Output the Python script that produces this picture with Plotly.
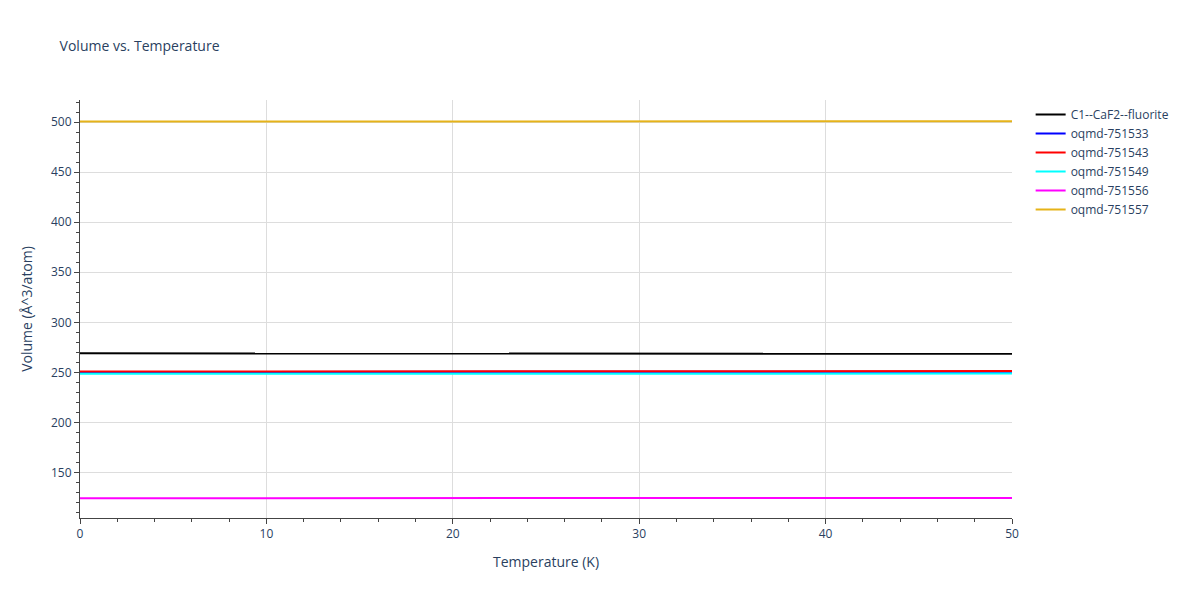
import plotly.graph_objects as go

temps = [0, 5, 10, 15, 20, 25, 30, 35, 40, 45, 50]
names = ["C1--CaF2--fluorite", "oqmd-751533", "oqmd-751543", "oqmd-751549", "oqmd-751556", "oqmd-751557"]
colors = ["black", "blue", "red", "cyan", "magenta", "#E6B319"]
v_c1 = [269.0, 269.0, 268.9, 268.9, 268.9, 268.8, 268.8, 268.8, 268.7, 268.7, 268.6]
v_533 = [250.4, 250.4, 250.4, 250.5, 250.5, 250.5, 250.5, 250.6, 250.6, 250.6, 250.7]
v_543 = [250.9, 250.9, 250.9, 251.0, 251.0, 251.0, 251.1, 251.1, 251.2, 251.2, 251.3]
v_549 = [248.6, 248.6, 248.6, 248.6, 248.7, 248.7, 248.7, 248.7, 248.8, 248.8, 248.8]
v_556 = [124.4, 124.4, 124.4, 124.4, 124.4, 124.4, 124.5, 124.5, 124.5, 124.5, 124.5]
v_557 = [500.6, 500.6, 500.6, 500.6, 500.6, 500.6, 500.6, 500.7, 500.7, 500.7, 500.7]
series = [v_c1, v_533, v_543, v_549, v_556, v_557]

fig = go.Figure()
for n, c, v in zip(names, colors, series):
    fig.add_trace(go.Scatter(x=temps, y=v, mode="lines", name=n, line=dict(color=c, width=2)))

fig.update_layout(
    title=dict(text="Volume vs. Temperature", x=0.043, y=0.945, font=dict(size=14)),
    width=1200, height=600, plot_bgcolor="white", paper_bgcolor="white",
    font=dict(family="Open Sans", color="#2a3f5f"),
    margin=dict(l=72, r=196, t=92, b=90),
    legend=dict(x=1.02, y=1, font=dict(size=12)),
)
fig.update_xaxes(title_text="Temperature (K)", range=[0, 50], showgrid=True, gridcolor="#ddd",
                 ticks="outside", tickcolor="#444", linecolor="#444", showline=True,
                 minor=dict(ticks="outside", dtick=2, ticklen=3, tickcolor="#444"))
fig.update_yaxes(title_text="Volume (Å^3/atom)", range=[104.6, 522], showgrid=True, gridcolor="#ddd",
                 ticks="outside", tickcolor="#444", linecolor="#444", showline=True, dtick=50,
                 minor=dict(ticks="outside", dtick=10, ticklen=3, tickcolor="#444"))
fig.write_html("out.html")
